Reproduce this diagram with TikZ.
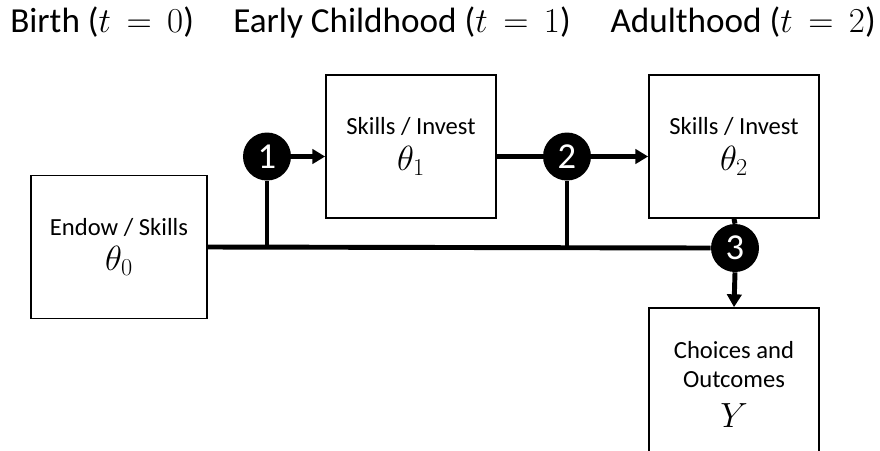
\documentclass[tikz,border=0pt]{standalone}
\usepackage{fontspec}
\setmainfont{Carlito}
\usetikzlibrary{arrows.meta}

\begin{document}
\begin{tikzpicture}[x=0.025cm, y=-0.025cm,
    stagebox/.style={rectangle, draw=black, line width=1.2pt, align=center,
        minimum width=4.25cm, minimum height=3.575cm, inner sep=0pt,
        font=\fontsize{17.5}{21}\selectfont},
    stepnode/.style={circle, fill=black, text=white, minimum size=1.2cm, inner sep=0pt,
        font=\fontsize{26}{26}\selectfont},
    period/.style={font=\fontsize{25}{30}\selectfont, inner sep=0pt},
    bus/.style={line width=3.5pt},
    directed/.style={bus, -{Triangle[length=0.32cm, width=0.36cm]}}
]
    \useasboundingbox (0,0) rectangle (880,450);

    % Periods
    \node[period, anchor=west] (birth) at (10,22) {Birth ($t\,=\,0$)};
    \node[period, anchor=west] (early) at (233,22) {Early Childhood ($t\,=\,1$)};
    \node[period, anchor=east] (adult) at (876,22) {Adulthood ($t\,=\,2$)};

    % Boxes
    \node[stagebox, minimum width=4.4cm] (endow) at (119,247) {Endow / Skills\\[4pt] {\fontsize{27}{29}\selectfont $\theta_0$}};
    \node[stagebox] (inv1) at (411,146.5) {Skills / Invest\\[4pt] {\fontsize{27}{29}\selectfont $\theta_1$}};
    \node[stagebox] (inv2) at (734,146.5) {Skills / Invest\\[4pt] {\fontsize{27}{29}\selectfont $\theta_2$}};
    \node[stagebox, minimum height=3.8cm] (outc) at (734,384) {Choices and\\Outcomes\\[7pt] {\fontsize{27}{29}\selectfont $Y$}};

    % Numbered steps
    \node[stepnode] (s1) at (267,156.5) {1};
    \node[stepnode] (s2) at (567,156.5) {2};
    \node[stepnode] (s3) at (735,248) {3};

    % Connectors
    \draw[bus] (endow.east) -- (s3.west);
    \draw[bus] (s1) -- (s1 |- endow.east);
    \draw[bus] (s2) -- (s2 |- endow.east);
    \draw[directed] (s1.east) -- (s1.east -| inv1.west);
    \draw[bus] (s2.west -| inv1.east) -- (s2.west);
    \draw[directed] (s2.east) -- (s2.east -| inv2.west);
    \draw[bus] (inv2.south) -- (s3.north);
    \draw[directed] (s3.south) -- (outc.north);
\end{tikzpicture}
\end{document}
